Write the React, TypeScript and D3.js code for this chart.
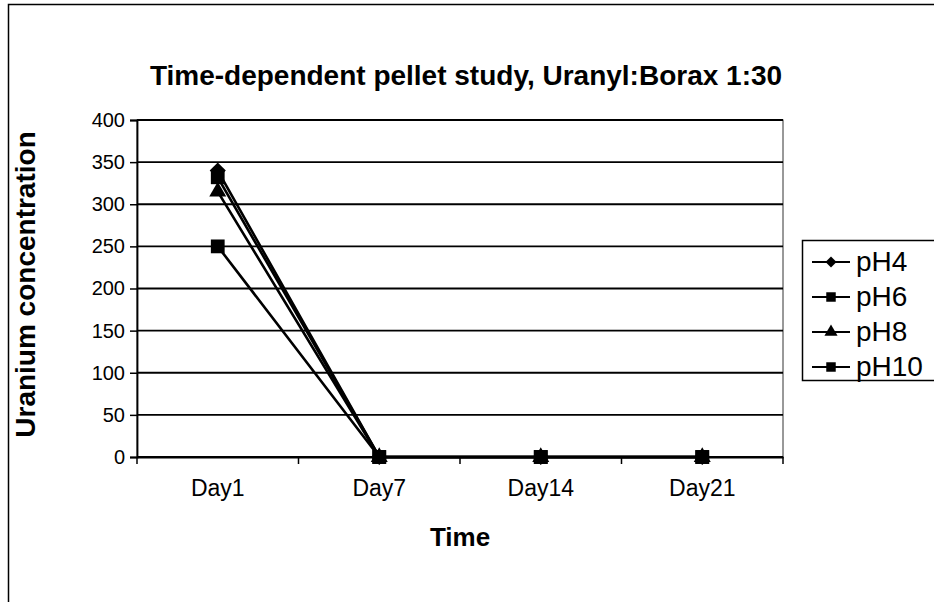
import React, { useEffect, useRef } from "react";
import * as d3 from "d3";

const days = ["Day1", "Day7", "Day14", "Day21"];
const seriesNames = ["pH4", "pH6", "pH8", "pH10"];
const pH4 = [340, 0, 0, 0];
const pH6 = [332, 0, 0, 0];
const pH8 = [315, 0, 0, 0];
const pH10 = [250, 0, 0, 0];
const yTicks = [0, 50, 100, 150, 200, 250, 300, 350, 400];

const seriesValues = [pH4, pH6, pH8, pH10];
// Excel-style markers: diamond is a square turned 45 degrees
const symbols = [d3.symbolSquare, d3.symbolSquare, d3.symbolTriangle, d3.symbolSquare];
const rotations = [45, 0, 0, 0];
const symbolSizes = [130, 190, 125, 190];
const legendSizes = [60, 90, 75, 90];

export default function App() {
  const svgRef = useRef<SVGSVGElement>(null);

  useEffect(() => {
    document.body.style.margin = "0";
    const width = 934;
    const height = 602;
    const plot = { left: 137, top: 120, right: 783, bottom: 457 };

    const svg = d3.select(svgRef.current).attr("width", width).attr("height", height);
    svg.selectAll("*").remove();

    // outer chart frame (right and bottom sides fall outside the picture)
    svg
      .append("path")
      .attr("d", `M8.5,${height} V4.5 H${width}`)
      .attr("fill", "none")
      .attr("stroke", "#000")
      .attr("stroke-width", 1.5);

    const x = d3.scaleBand().domain(days).range([plot.left, plot.right]);
    const y = d3.scaleLinear().domain([0, 400]).range([plot.bottom, plot.top]);

    // plot frame
    svg
      .append("rect")
      .attr("x", plot.left)
      .attr("y", plot.top)
      .attr("width", plot.right - plot.left)
      .attr("height", plot.bottom - plot.top)
      .attr("fill", "none")
      .attr("stroke", "#333")
      .attr("stroke-width", 1);

    // gridlines
    svg
      .append("g")
      .selectAll("line")
      .data(yTicks)
      .enter()
      .append("line")
      .attr("x1", plot.left)
      .attr("x2", plot.right)
      .attr("y1", (d) => y(d))
      .attr("y2", (d) => y(d))
      .attr("stroke", "#000")
      .attr("stroke-width", 1.8);

    const font = "Arial, 'Liberation Sans', sans-serif";

    const yAxis = svg
      .append("g")
      .attr("transform", `translate(${plot.left},0)`)
      .call(d3.axisLeft(y).tickValues(yTicks).tickSize(7).tickPadding(5));
    yAxis.select(".domain").attr("stroke", "#000").attr("stroke-width", 1.8);
    yAxis.selectAll(".tick line").attr("stroke-width", 1.5);
    yAxis.selectAll("text").attr("font-family", font).attr("font-size", 20).attr("fill", "#000");

    const xAxis = svg
      .append("g")
      .attr("transform", `translate(0,${plot.bottom})`)
      .call(d3.axisBottom(x).tickSize(0).tickPadding(23));
    xAxis.select(".domain").attr("stroke", "#000").attr("stroke-width", 1.8);
    xAxis.selectAll("text").attr("font-family", font).attr("font-size", 23).attr("fill", "#000");

    // category boundary ticks
    const bounds = days.map((d) => x(d) as number).concat([plot.right]);
    svg
      .append("g")
      .selectAll("line")
      .data(bounds)
      .enter()
      .append("line")
      .attr("x1", (d) => d)
      .attr("x2", (d) => d)
      .attr("y1", plot.bottom)
      .attr("y2", plot.bottom + 7)
      .attr("stroke", "#000")
      .attr("stroke-width", 1.5);

    const cx = (d: string) => (x(d) as number) + x.bandwidth() / 2;
    const line = d3
      .line<number>()
      .x((d, i) => cx(days[i]))
      .y((d) => y(d));

    seriesValues.forEach((vals) => {
      svg
        .append("path")
        .datum(vals)
        .attr("d", line)
        .attr("fill", "none")
        .attr("stroke", "#000")
        .attr("stroke-width", 2.6);
    });

    seriesValues.forEach((vals, s) => {
      svg
        .append("g")
        .selectAll("path")
        .data(vals)
        .enter()
        .append("path")
        .attr("d", d3.symbol().type(symbols[s]).size(symbolSizes[s]))
        .attr("transform", (d, i) => `translate(${cx(days[i])},${y(d)}) rotate(${rotations[s]})`)
        .attr("fill", "#000");
    });

    // titles
    svg
      .append("text")
      .attr("x", 466)
      .attr("y", 85)
      .attr("text-anchor", "middle")
      .attr("font-family", font)
      .attr("font-weight", "bold")
      .attr("font-size", 28)
      .text("Time-dependent pellet study, Uranyl:Borax 1:30");

    svg
      .append("text")
      .attr("x", 460)
      .attr("y", 546)
      .attr("text-anchor", "middle")
      .attr("font-family", font)
      .attr("font-weight", "bold")
      .attr("font-size", 26)
      .text("Time");

    svg
      .append("text")
      .attr("transform", `translate(35,${(plot.top + plot.bottom) / 2 - 4}) rotate(-90)`)
      .attr("text-anchor", "middle")
      .attr("font-family", font)
      .attr("font-weight", "bold")
      .attr("font-size", 28)
      .text("Uranium concentration");

    // legend
    const legend = svg.append("g");
    legend
      .append("rect")
      .attr("x", 802.5)
      .attr("y", 240.5)
      .attr("width", 160)
      .attr("height", 140)
      .attr("fill", "#fff")
      .attr("stroke", "#000")
      .attr("stroke-width", 1.5);

    seriesNames.forEach((name, s) => {
      const ly = 262 + s * 35;
      legend
        .append("line")
        .attr("x1", 812)
        .attr("x2", 850)
        .attr("y1", ly)
        .attr("y2", ly)
        .attr("stroke", "#000")
        .attr("stroke-width", 2);
      legend
        .append("path")
        .attr("d", d3.symbol().type(symbols[s]).size(legendSizes[s]))
        .attr("transform", `translate(831,${ly}) rotate(${rotations[s]})`)
        .attr("fill", "#000");
      legend
        .append("text")
        .attr("x", 856)
        .attr("y", ly + 9)
        .attr("font-family", font)
        .attr("font-size", 28)
        .text(name);
    });
  }, []);

  return (
    <div>
      <svg ref={svgRef} style={{ display: "block" }}></svg>
    </div>
  );
}
